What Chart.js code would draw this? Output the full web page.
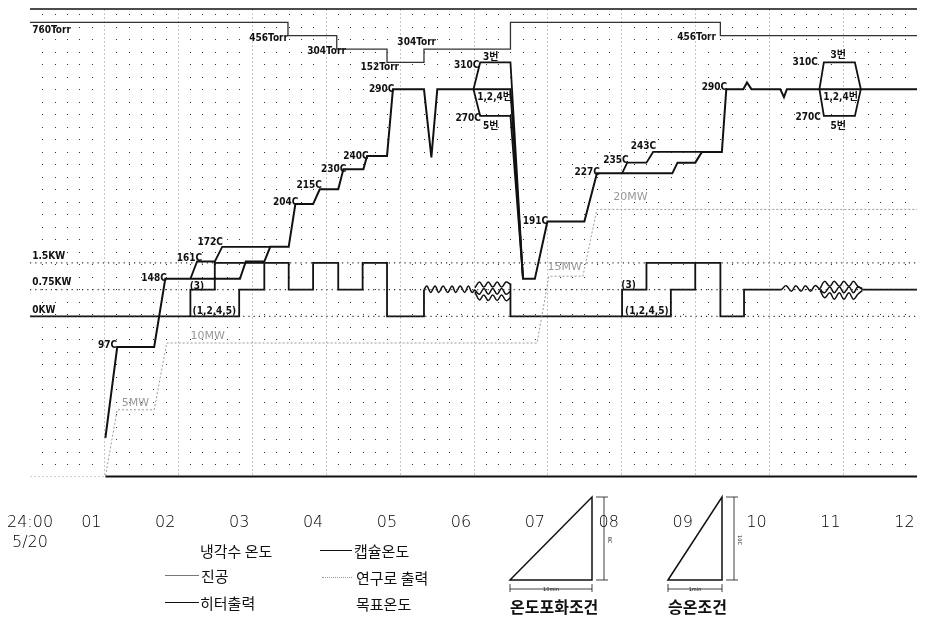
<!DOCTYPE html>
<html>
<head>
<meta charset="utf-8">
<script src="https://cdn.jsdelivr.net/npm/chart.js@4"></script>
<style>
  html, body { margin: 0; padding: 0; background: #fff; }
  #wrap { position: relative; width: 927px; height: 622px; overflow: hidden; }
  #chart { position: absolute; left: 0; top: 0; }
  .lg { position: absolute; font-family: "Noto Sans CJK KR", sans-serif; font-size: 15px; color: #111; white-space: nowrap; line-height: 1; }
  .ln { position: absolute; height: 0; }
  .cond { font-weight: bold; font-size: 16px; }
  svg { position: absolute; left: 500px; top: 490px; }
</style>
</head>
<body>
<div id="wrap">
  <canvas id="chart" width="927" height="622"></canvas>

  <div class="lg" style="left:200px; top:543px;">냉각수 온도</div>
  <div class="ln" style="left:320px; top:550px; width:32px; border-top:1.5px solid #111;"></div>
  <div class="lg" style="left:354px; top:543px;">캡슐온도</div>

  <div class="ln" style="left:165px; top:575px; width:34px; border-top:1px solid #777;"></div>
  <div class="lg" style="left:201px; top:568px;">진공</div>
  <div class="ln" style="left:322px; top:577px; width:30px; border-top:1px dotted #999;"></div>
  <div class="lg" style="left:356px; top:570px;">연구로 출력</div>

  <div class="ln" style="left:165px; top:602px; width:34px; border-top:1.5px solid #111;"></div>
  <div class="lg" style="left:200px; top:595px;">히터출력</div>
  <div class="lg" style="left:356px; top:596px;">목표온도</div>

  <div class="lg cond" style="left:510px; top:598px;">온도포화조건</div>
  <div class="lg cond" style="left:668px; top:598px;">승온조건</div>

  <svg width="260" height="105" viewBox="0 0 260 105">
    <g stroke="#111" stroke-width="1.5" fill="none">
      <path d="M10 90 L92 7 L92 90 Z"/>
      <path d="M168 90 L222 7 L222 90 Z"/>
    </g>
    <g stroke="#111" stroke-width="0.8" fill="none">
      <path d="M96 7 H108 M104 7 V90 M96 90 H108"/>
      <path d="M10 94 V102 M92 94 V102 M10 99 H92"/>
      <path d="M226 7 H238 M234 7 V90 M226 90 H238"/>
      <path d="M168 94 V102 M222 94 V102 M168 99 H222"/>
    </g>
    <g font-family="DejaVu Sans" font-size="5" fill="#111" text-anchor="middle">
      <text x="51" y="101">10min</text>
      <text x="195" y="101">1min</text>
      <text x="108" y="50" transform="rotate(90 108 50)">8C</text>
      <text x="238" y="50" transform="rotate(90 238 50)">10C</text>
    </g>
  </svg>
</div>

<script>
// time axis: hours after 24:00 on 5/20; main value axis: temperature in C
const tickHours = [0, 1, 2, 3, 4, 5, 6, 7, 8, 9, 10, 11, 12];
const tickLabels = [['24:00', '5/20'], '01', '02', '03', '04', '05', '06', '07', '08', '09', '10', '11', '12'];

// capsule temperature (1,2,4,5 / main trace)
const capTime = [1.02, 1.18, 1.68, 1.83, 2.84, 2.92, 3.17, 3.25, 3.5, 3.59, 3.83, 3.92, 4.17, 4.24, 4.51, 4.56, 4.83, 4.91, 5.33, 5.43,
                 5.51, 6.5, 6.67, 6.83, 7.0, 7.5, 7.67, 8.69, 8.76, 9.0, 9.09, 9.36, 9.42, 9.65, 9.7, 9.76, 10.15, 10.2, 10.24, 12];
const capTemp = [29, 97, 97, 148, 148, 161, 161, 172, 172, 204, 204, 215, 215, 230, 230, 240, 240, 290, 290, 239,
                 290, 290, 148, 148, 191, 191, 227, 227, 235, 235, 243, 243, 290, 290, 295, 290, 290, 284, 290, 290];

// capsule 3 runs ahead of the others
const lead1Time = [2.17, 2.26, 2.5, 2.6, 3.25];
const lead1Temp = [148, 161, 161, 172, 172];
const lead2Time = [8.01, 8.08, 8.34, 8.43, 9.09];
const lead2Temp = [227, 235, 235, 243, 243];

// split into capsule 3 (310C) and capsule 5 (270C)
const split1Time = [6.0, 6.09, 6.5, 6.67];
const split1Cap3 = [290, 310, 310, 148];
const split1Cap5 = [290, 270, 270, 148];
const split2Time = [10.68, 10.74, 11.16, 11.24];
const split2Cap3 = [290, 310, 310, 290];
const split2Cap5 = [290, 270, 270, 290];

// vacuum in Torr
const vacTime = [0, 3.49, 3.49, 4.15, 4.15, 4.83, 4.83, 5.33, 5.33, 6.5, 6.5, 9.34, 9.34, 12];
const vacTorr = [760, 760, 456, 456, 304, 304, 152, 152, 304, 304, 760, 760, 456, 456];
const torrLevel = { 760: 340, 456: 330, 304: 320, 152: 310 };

// research reactor power in MW
const rxTime = [0, 1.02, 1.18, 1.68, 1.85, 6.86, 7.02, 7.48, 7.67, 12];
const rxMW = [0, 0, 5, 5, 10, 10, 15, 15, 20, 20];

// heater output in KW (heaters 1,2,4,5)
const heatA_t = [0, 2.83, 2.83, 3.17, 3.17, 3.5, 3.5, 3.83, 3.83, 4.17, 4.17, 4.5, 4.5, 4.83, 4.83, 5.33, 5.33];
const heatA_kw = [0, 0, 0.75, 0.75, 1.5, 1.5, 0.75, 0.75, 1.5, 1.5, 0.75, 0.75, 1.5, 1.5, 0, 0, 0.75];
const heatB_t = [6.5, 6.5, 8.67, 8.67, 9.0, 9.0, 9.34, 9.34, 9.66, 9.66, 10.17];
const heatB_kw = [0.92, 0, 0, 0.75, 0.75, 1.5, 1.5, 0, 0, 0.75, 0.75];
const heatC_t = [11.26, 12];
const heatC_kw = [0.75, 0.75];
// heater 3
const heat3a_t = [2.17, 2.17, 2.5, 2.5, 3.17];
const heat3a_kw = [0, 0.75, 0.75, 1.5, 1.5];
const heat3b_t = [8.01, 8.01, 8.34, 8.34, 9.0];
const heat3b_kw = [0, 0.75, 0.75, 1.5, 1.5];

// heater fluctuation
const wave1_t = [5.33, 5.37, 5.42, 5.48, 5.53, 5.59, 5.65, 5.71, 5.76, 5.82, 5.88, 5.93, 5.98, 6.02];
const wave1_kw = [0.75, 0.85, 0.67, 0.85, 0.67, 0.85, 0.67, 0.85, 0.67, 0.85, 0.67, 0.85, 0.67, 0.75];
const wave2_t = [6.02, 6.08, 6.14, 6.2, 6.26, 6.32, 6.38, 6.44, 6.5];
const wave2_top = [0.80, 0.96, 0.82, 0.96, 0.82, 0.96, 0.82, 0.96, 0.90];
const wave2_mid = [0.74, 0.62, 0.78, 0.62, 0.78, 0.62, 0.78, 0.62, 0.70];
const wave2_bot = [0.68, 0.46, 0.60, 0.44, 0.60, 0.44, 0.60, 0.44, 0.52];
const wave3_t = [10.17, 10.23, 10.3, 10.36, 10.43, 10.49, 10.56, 10.62, 10.69];
const wave3_kw = [0.75, 0.86, 0.70, 0.86, 0.70, 0.86, 0.70, 0.86, 0.75];
const wave4_t = [10.69, 10.75, 10.82, 10.88, 10.95, 11.01, 11.08, 11.14, 11.2, 11.26];
const wave4_top = [0.78, 0.98, 0.84, 0.98, 0.84, 0.98, 0.84, 0.98, 0.84, 0.78];
const wave4_mid = [0.75, 0.66, 0.82, 0.66, 0.82, 0.66, 0.82, 0.66, 0.82, 0.75];
const wave4_bot = [0.72, 0.52, 0.66, 0.48, 0.66, 0.48, 0.66, 0.48, 0.62, 0.72];

const kwLevels = [0, 0.75, 1.5];

// text notes: [text, hour, value(C), align, gray?]
const notes = [
  ['760Torr', 0.03, 334, 'left'], ['456Torr', 3.49, 328, 'right'], ['304Torr', 3.75, 318, 'left'],
  ['152Torr', 4.47, 306, 'left'], ['304Torr', 4.97, 325, 'left'], ['456Torr', 9.28, 329, 'right'],
  ['1.5KW', 0.03, 165, 'left'], ['0.75KW', 0.03, 145, 'left'], ['0KW', 0.03, 124.5, 'left'],
  ['97C', 1.18, 98, 'right'], ['148C', 1.85, 148, 'right'], ['161C', 2.33, 163, 'right'],
  ['172C', 2.61, 175, 'right'], ['204C', 3.63, 205, 'right'], ['215C', 3.95, 218, 'right'],
  ['230C', 4.28, 230, 'right'], ['240C', 4.58, 240, 'right'], ['290C', 4.93, 290, 'right'],
  ['310C', 6.08, 308, 'right'], ['3번', 6.13, 314, 'left'], ['1,2,4번', 6.05, 284, 'left'],
  ['270C', 6.1, 268, 'right'], ['5번', 6.13, 262, 'left'], ['191C', 7.01, 191, 'right'],
  ['227C', 7.71, 228, 'right'], ['235C', 8.1, 237, 'right'], ['243C', 8.47, 247, 'right'],
  ['290C', 9.43, 291, 'right'], ['310C', 10.66, 310, 'right'], ['3번', 10.83, 315, 'left'],
  ['1,2,4번', 10.73, 284, 'left'], ['270C', 10.7, 269, 'right'], ['5번', 10.83, 262, 'left'],
  ['(3)', 2.16, 142, 'left'], ['(1,2,4,5)', 2.2, 124, 'left'], ['(3)', 8.0, 143, 'left'], ['(1,2,4,5)', 8.05, 124, 'left'],
  ['5MW', 1.24, 55, 'left', true], ['10MW', 2.17, 105, 'left', true], ['15MW', 7.0, 157, 'left', true], ['20MW', 7.89, 209, 'left', true]
];

const pts = (t, v, f) => t.map((x, i) => ({ x: x, y: f ? f(v[i]) : v[i] }));

const INK = '#111';
const line = (data, extra) => Object.assign({ data: data, borderColor: INK, borderWidth: 1.8, pointRadius: 0, tension: 0, fill: false }, extra || {});
const wave = (t, v) => line(pts(t, v), { yAxisID: 'yKW', borderWidth: 1.5, tension: 0.4 });

const datasets = [
  line(pts(rxTime, rxMW), { yAxisID: 'yMW', borderColor: '#9a9a9a', borderWidth: 1, borderDash: [2, 2] }),
  ...kwLevels.map(k => line([{ x: 0, y: k }, { x: 12, y: k }], { yAxisID: 'yKW', borderColor: '#333', borderWidth: 1.2, borderDash: [1.2, 4] })),
  line(pts(vacTime, vacTorr, p => torrLevel[p]), { borderColor: '#333', borderWidth: 1.3 }),
  line(pts(heatA_t, heatA_kw), { yAxisID: 'yKW' }),
  line(pts(heatB_t, heatB_kw), { yAxisID: 'yKW' }),
  line(pts(heatC_t, heatC_kw), { yAxisID: 'yKW' }),
  line(pts(heat3a_t, heat3a_kw), { yAxisID: 'yKW' }),
  line(pts(heat3b_t, heat3b_kw), { yAxisID: 'yKW' }),
  wave(wave1_t, wave1_kw), wave(wave2_t, wave2_top), wave(wave2_t, wave2_mid), wave(wave2_t, wave2_bot),
  wave(wave3_t, wave3_kw), wave(wave4_t, wave4_top), wave(wave4_t, wave4_mid), wave(wave4_t, wave4_bot),
  line(pts(capTime, capTemp), { borderWidth: 2 }),
  line(pts(lead1Time, lead1Temp)),
  line(pts(lead2Time, lead2Temp)),
  line(pts(split1Time, split1Cap3)),
  line(pts(split1Time, split1Cap5)),
  line(pts(split2Time, split2Cap3)),
  line(pts(split2Time, split2Cap5))
];

// dotted recorder paper, hour lines and frame
const paperGrid = {
  id: 'paperGrid',
  beforeDatasetsDraw(chart) {
    const { ctx, chartArea: a, scales: { x, y } } = chart;
    ctx.save();
    ctx.strokeStyle = '#c4c4c4';
    ctx.lineWidth = 1;
    ctx.setLineDash([2, 2]);
    for (let h = 1; h < 12; h++) {
      const px = Math.round(x.getPixelForValue(h)) + 0.5;
      ctx.beginPath(); ctx.moveTo(px, a.top); ctx.lineTo(px, a.bottom); ctx.stroke();
    }
    ctx.setLineDash([]);
    ctx.fillStyle = '#333';
    for (let m = 1; m < 72; m++) {
      if (m % 6 === 0) continue;
      const px = Math.round(x.getPixelForValue(m / 6));
      for (let v = 9.35; v < 348; v += 9.35) {
        ctx.fillRect(px, Math.round(y.getPixelForValue(v)), 1, 1);
      }
    }
    ctx.strokeStyle = INK;
    ctx.lineWidth = 1.5;
    ctx.beginPath(); ctx.moveTo(a.left, a.top); ctx.lineTo(a.right, a.top); ctx.stroke();
    ctx.lineWidth = 2;
    ctx.beginPath(); ctx.moveTo(x.getPixelForValue(1.02), a.bottom); ctx.lineTo(a.right, a.bottom); ctx.stroke();
    ctx.restore();
  },
  afterDatasetsDraw(chart) {
    const { ctx, scales: { x, y } } = chart;
    ctx.save();
    ctx.textBaseline = 'middle';
    notes.forEach(n => {
      ctx.textAlign = n[3];
      if (n[4]) { ctx.fillStyle = '#999'; ctx.font = '11px "DejaVu Sans"'; }
      else { ctx.fillStyle = INK; ctx.font = 'bold 10px "DejaVu Sans Condensed", "Noto Sans CJK KR"'; }
      ctx.fillText(n[0], x.getPixelForValue(n[1]), y.getPixelForValue(n[2]));
    });
    ctx.restore();
  }
};

new Chart(document.getElementById('chart'), {
  type: 'line',
  data: { datasets: datasets },
  options: {
    responsive: false,
    animation: false,
    devicePixelRatio: 1,
    layout: { padding: { left: 30, right: 10, top: 9, bottom: 33 } },
    plugins: { legend: { display: false }, tooltip: { enabled: false } },
    scales: {
      x: {
        type: 'linear', min: 0, max: 12,
        afterBuildTicks: s => { s.ticks = tickHours.map(h => ({ value: h === 0 ? 0 : h - 0.17 })); },
        afterFit: s => { s.paddingLeft = 0; s.paddingRight = 0; },
        ticks: {
          autoSkip: false, maxRotation: 0, padding: 37, color: '#000',
          font: { family: 'DejaVu Sans', size: 16, weight: 200 },
          callback: (v, i) => tickLabels[i]
        },
        grid: { display: false, drawTicks: false },
        border: { display: false }
      },
      y: { type: 'linear', min: 0, max: 350, display: false },
      yKW: { type: 'linear', min: -4.5, max: 8.625, display: false },
      yMW: { type: 'linear', min: 0, max: 35, display: false }
    }
  },
  plugins: [paperGrid]
});
</script>
</body>
</html>
